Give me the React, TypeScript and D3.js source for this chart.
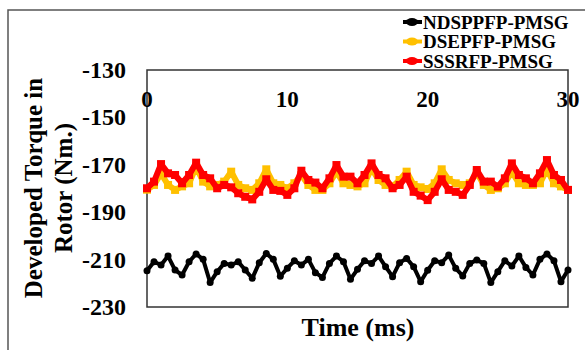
import React from "react";
import * as d3 from "d3";

const timeStep = 0.5;
const seriesNames = ["NDSPPFP-PMSG", "DSEPFP-PMSG", "SSSRFP-PMSG"];
const seriesColors = ["#000000", "#FFC000", "#FF0000"];

const ndsppfp = [
  -214.7, -210.9, -212.3, -208.5, -214.4, -216.5, -210.9, -207.6, -209.9, -219.7,
  -215.1, -211.6, -212.3, -210.9, -214.4, -217.9, -211.3, -207.4, -209.9, -217.0,
  -213.6, -210.5, -212.3, -209.9, -215.5, -217.5, -211.6, -208.5, -210.9, -218.3,
  -214.1, -210.5, -211.6, -208.5, -213.0, -217.2, -211.3, -209.5, -213.0, -219.3,
  -214.5, -210.5, -211.3, -208.1, -213.7, -216.9, -211.6, -210.2, -211.6, -219.7,
  -215.1, -210.5, -212.7, -208.5, -213.3, -216.5, -209.9, -207.6, -210.5, -219.3,
  -214.4,
];

const dsepfp = [
  -180.5, -178.5, -173.6, -178.5, -180.6, -179.1, -177.8, -170.8, -177.1, -179.1,
  -178.5, -177.1, -172.9, -178.5, -179.9, -180.6, -177.8, -171.9, -177.8, -178.5,
  -179.9, -177.8, -174.3, -178.5, -180.6, -180.6, -177.8, -172.9, -177.8, -178.5,
  -179.1, -177.8, -171.5, -176.4, -178.5, -179.1, -176.4, -172.9, -178.5, -179.5,
  -180.2, -177.8, -171.9, -176.4, -177.8, -178.5, -177.8, -173.3, -178.5, -180.6,
  -179.9, -177.8, -172.9, -177.8, -178.5, -178.5, -177.8, -171.9, -177.8, -179.1,
  -180.6,
];

const sssrfp = [
  -179.9, -177.1, -169.7, -173.6, -174.3, -177.8, -174.3, -169.1, -174.3, -175.7,
  -179.9, -178.5, -179.5, -182.0, -183.5, -184.6, -181.4, -176.1, -180.6, -181.0,
  -182.7, -179.9, -172.5, -176.4, -177.5, -179.9, -175.7, -170.1, -175.0, -175.0,
  -177.8, -174.3, -169.4, -174.3, -175.7, -179.9, -178.5, -175.0, -181.4, -183.0,
  -184.9, -181.4, -176.1, -180.6, -181.4, -182.7, -178.5, -172.2, -177.1, -177.1,
  -179.2, -175.7, -169.4, -174.3, -175.7, -177.8, -173.6, -168.0, -174.3, -176.4,
  -180.6,
];

const xTicks = [0, 10, 20, 30];
const yTicks = [-130, -150, -170, -190, -210, -230];
const xTitle = "Time (ms)";
const yTitleLines = ["Developed Torque in", "Rotor (Nm.)"];

const FONT = "Liberation Serif";

export default function App() {
  const W = 585;
  const H = 350;
  const x = d3.scaleLinear().domain([0, 30]).range([147, 568]);
  const y = d3.scaleLinear().domain([-230, -130]).range([307, 70]);

  const toPts = (arr: number[]) => arr.map((v, i) => [i * timeStep, v] as [number, number]);
  const line = d3
    .line<[number, number]>()
    .x((d) => x(d[0]))
    .y((d) => y(d[1]));

  const black = toPts(ndsppfp);
  const yellow = toPts(dsepfp);
  const red = toPts(sssrfp);

  const ts = { fontFamily: FONT, fontWeight: 700 } as React.CSSProperties;

  return (
    <svg
      width={W}
      height={H}
      style={{ position: "absolute", left: 0, top: 0, background: "#fff" }}
    >
      <rect x={0} y={0} width={W} height={H} fill="#fff" />
      {/* outer frame */}
      <rect x={8} y={10} width={W + 20} height={H + 20} fill="none" stroke="#555" strokeWidth={1.5} />

      {/* plot border */}
      <rect x={x(0)} y={y(-130)} width={x(30) - x(0)} height={y(-230) - y(-130)} fill="none" stroke="#333" strokeWidth={1.5} />

      {/* y tick labels */}
      {yTicks.map((t) => (
        <text key={t} x={126} y={y(t)} textAnchor="end" dominantBaseline="central" fontSize={24} fill="#000" style={ts}>
          {t}
        </text>
      ))}

      {/* x tick labels */}
      {xTicks.map((t) => (
        <text key={t} x={x(t)} y={99} textAnchor="middle" dominantBaseline="central" fontSize={23} fill="#000" style={ts}>
          {t}
        </text>
      ))}

      {/* series */}
      <path d={line(black) || ""} fill="none" stroke={seriesColors[0]} strokeWidth={4} strokeLinejoin="round" />
      {black.map((d, i) => (
        <circle key={"b" + i} cx={x(d[0])} cy={y(d[1])} r={3.5} fill={seriesColors[0]} />
      ))}

      <path d={line(yellow) || ""} fill="none" stroke={seriesColors[1]} strokeWidth={6} strokeLinejoin="round" />
      {yellow.map((d, i) => (
        <rect key={"y" + i} x={x(d[0]) - 4} y={y(d[1]) - 4} width={8} height={8} fill={seriesColors[1]} />
      ))}

      <path d={line(red) || ""} fill="none" stroke={seriesColors[2]} strokeWidth={6} strokeLinejoin="round" />
      {red.map((d, i) => (
        <rect key={"r" + i} x={x(d[0]) - 4} y={y(d[1]) - 4} width={8} height={8} fill={seriesColors[2]} />
      ))}

      {/* x title */}
      <text x={358} y={327} textAnchor="middle" dominantBaseline="central" fontSize={26} fill="#000" style={ts}>
        {xTitle}
      </text>

      {/* y title */}
      {yTitleLines.map((s, i) => (
        <text
          key={s}
          transform={`translate(${33 + i * 30},${188}) rotate(-90)`}
          textAnchor="middle"
          dominantBaseline="central"
          fontSize={25}
          fill="#000"
          style={ts}
        >
          {s}
        </text>
      ))}

      {/* legend */}
      {seriesNames.map((n, i) => {
        const ly = 22 + i * 19.5;
        return (
          <g key={n}>
            <line x1={403} x2={422} y1={ly} y2={ly} stroke={seriesColors[i]} strokeWidth={4} />
            <ellipse cx={412} cy={ly} rx={6} ry={4} fill={seriesColors[i]} />
            <text x={423} y={ly} dominantBaseline="central" fontSize={19} fill="#000" style={ts}>
              {n}
            </text>
          </g>
        );
      })}
    </svg>
  );
}
